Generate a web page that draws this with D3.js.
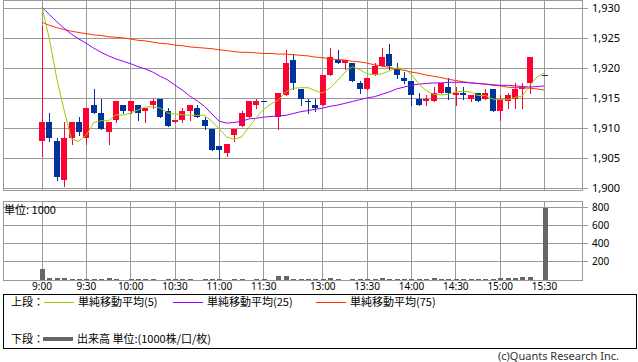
<!DOCTYPE html>
<html>
<head>
<meta charset="utf-8">
<script src="https://cdn.jsdelivr.net/npm/d3@7"></script>
<style>
  body { margin: 0; background: #fff; }
  svg { display: block; font-family: "Noto Sans", "Noto Sans CJK JP", sans-serif; }
</style>
</head>
<body>
<svg id="svg_chart" width="638" height="362"></svg>
<script>
// 5-minute slots, 0 = 9:00 ... 30 = 11:30, 32 = 12:30 ... 68 = 15:30
const slots = d3.range(0, 69)
const tickSlots = [0, 6, 12, 18, 24, 30, 38, 44, 50, 56, 62, 68]
const tickLabels = ["9:00", "9:30", "10:00", "10:30", "11:00", "11:30", "13:00", "13:30", "14:00", "14:30", "15:00", "15:30"]
const priceTicks = [1900, 1905, 1910, 1915, 1920, 1925, 1930]
const volumeTicks = [200, 400, 600, 800]

const open = [1908, 1911, 1908, 1901.5, 1908.5, 1911, 1908.5, 1914, 1912.5, 1909.5,
    1911.5, 1914, 1913, 1914, 1913, 1914, 1915, 1913, 1911, 1911.5,
    1913, 1913.5, 1911.5, 1910, 1907, 1906, 1909, 1910.5, 1912, 1914,
    1914.5, null, 1912, 1915.5, 1921.5, 1916.5, 1914.5, 1914, 1914, 1919,
    1921.5, 1921, 1921, 1917.5, 1916.5, 1919, 1920.5, 1922.5, 1920, 1918.5,
    1918, 1915, 1914.5, 1914.5, 1916, 1917, 1915.5, 1916, 1915, 1916,
    1915, 1916.5, 1913, 1914.5, 1915, 1916.5, 1917.5, null, 1919]
const high = [1927, 1912.5, 1908.5, 1911, 1911, 1912, 1913.5, 1916.5, 1915, 1911,
    1914.5, 1914, 1914.5, 1914, 1913.5, 1915, 1915, 1913.5, 1911.5, 1913.5,
    1914, 1914, 1912, 1910, 1907, 1907.5, 1910, 1913, 1914.5, 1915,
    1914.5, null, 1916, 1923, 1922.5, 1916.5, 1915, 1915, 1919, 1923.5,
    1923, 1921.5, 1921, 1918, 1918.5, 1921, 1923.5, 1924, 1921, 1919.5,
    1918, 1916, 1915.5, 1917, 1917.5, 1918.5, 1917, 1917, 1915.5, 1916,
    1916.5, 1916.5, 1915.5, 1916, 1917.5, 1917.5, 1922, null, 1919]
const low = [1905.5, 1908, 1901.5, 1900.5, 1907.5, 1909, 1907.5, 1912.5, 1910, 1907.5,
    1911, 1912.5, 1912.5, 1911.5, 1911, 1913.5, 1912, 1910.5, 1911, 1911,
    1911.5, 1912, 1910, 1906.5, 1905, 1905.5, 1908, 1910.5, 1912, 1913.5,
    1914.5, null, 1910, 1915.5, 1916.5, 1914, 1912.5, 1913, 1914, 1919,
    1921, 1920, 1918, 1916, 1916.5, 1919, 1920.5, 1920, 1918.5, 1917.5,
    1914, 1914, 1914, 1914.5, 1916, 1915, 1914, 1915, 1914.5, 1914.5,
    1915, 1913, 1911.5, 1913.5, 1913.5, 1913.5, 1916, null, 1919]
const close = [1911, 1908.5, 1902, 1908.5, 1911, 1909.5, 1913.5, 1912.5, 1910, 1911,
    1914.5, 1913, 1914.5, 1912.5, 1913.5, 1914.5, 1912, 1910.5, 1911.5, 1913,
    1914, 1912, 1910.5, 1906.5, 1906.5, 1907.5, 1910, 1912.5, 1914.5, 1914.5,
    1914.5, null, 1916, 1921, 1917.5, 1915, 1914.5, 1913.5, 1919, 1922,
    1921, 1921.5, 1918, 1916.5, 1918.5, 1920.5, 1922, 1920.5, 1919, 1918,
    1915.5, 1914, 1915, 1916, 1917.5, 1916, 1916, 1915.5, 1915.5, 1914.5,
    1916, 1913, 1915, 1915.5, 1916.5, 1917, 1922, null, 1919]
const volume = [120, 22, 22, 22, 12, 12, 12, 12, 12, 22,
    12, 5, 12, 12, 12, 12, 5, 12, 12, 12,
    12, 5, 12, 12, 12, 5, 12, 12, 5, 12,
    12, null, 44, 44, 15, 12, 12, 12, 12, 22,
    12, 5, 12, 12, 12, 12, 22, 12, 12, 12,
    12, 12, 12, 22, 12, 12, 12, 12, 12, 12,
    12, 12, 20, 20, 20, 33, 33, null, 795]

// moving averages (they carry over from the previous day)
const ma5 = [1930.2, 1924.9, 1918.3, 1913.0, 1908.2, 1907.9, 1908.9, 1911.0, 1911.3, 1911.3,
    1912.3, 1912.2, 1912.6, 1913.1, 1913.6, 1913.6, 1913.4, 1912.6, 1912.4, 1912.3,
    1912.2, 1912.2, 1912.2, 1911.2, 1909.9, 1908.6, 1908.2, 1908.6, 1910.2, 1911.8,
    1913.2, 1914.1, 1914.8, 1916.1, 1916.7, 1916.8, 1916.8, 1916.3, 1915.9, 1916.8,
    1918.0, 1919.4, 1920.3, 1919.8, 1919.1, 1919.0, 1919.1, 1919.6, 1920.1, 1920.0,
    1919.0, 1917.4, 1916.3, 1915.7, 1915.6, 1915.7, 1916.1, 1916.2, 1916.1, 1915.5,
    1915.5, 1914.9, 1914.8, 1914.8, 1915.2, 1915.4, 1917.2, 1918.6, 1919.3]
const ma25 = [1930.2, 1929.0, 1927.8, 1926.7, 1925.7, 1924.9, 1924.2, 1923.4, 1922.7, 1922.1,
    1921.6, 1921.2, 1920.8, 1920.3, 1919.9, 1919.4, 1918.7, 1918.1, 1917.2, 1916.4,
    1915.4, 1914.6, 1913.7, 1912.4, 1911.2, 1910.9, 1911.0, 1911.2, 1911.6, 1911.7,
    1911.9, 1912.0, 1912.1, 1912.2, 1912.5, 1912.8, 1913.0, 1913.2, 1913.4, 1913.7,
    1913.9, 1914.2, 1914.5, 1914.8, 1915.1, 1915.3, 1915.7, 1916.1, 1916.6, 1916.9,
    1917.2, 1917.4, 1917.5, 1917.6, 1917.6, 1917.7, 1917.7, 1917.7, 1917.6, 1917.5,
    1917.4, 1917.3, 1917.2, 1917.2, 1917.1, 1917.0, 1916.9, 1917.0, 1917.1]
const ma75 = [1927.7, 1927.2, 1926.8, 1926.5, 1926.2, 1926.0, 1925.8, 1925.6, 1925.5, 1925.3,
    1925.2, 1925.1, 1924.9, 1924.7, 1924.6, 1924.4, 1924.2, 1924.1, 1923.9, 1923.8,
    1923.6, 1923.5, 1923.4, 1923.3, 1923.1, 1923.0, 1922.8, 1922.7, 1922.7, 1922.6,
    1922.5, 1922.5, 1922.4, 1922.4, 1922.3, 1922.2, 1922.1, 1921.9, 1921.8, 1921.6,
    1921.5, 1921.4, 1921.2, 1921.1, 1920.9, 1920.6, 1920.4, 1920.2, 1919.9, 1919.7,
    1919.4, 1919.2, 1918.9, 1918.7, 1918.5, 1918.2, 1918.0, 1917.8, 1917.6, 1917.5,
    1917.4, 1917.2, 1917.1, 1916.9, 1916.8, 1916.8, 1916.7, 1916.6, 1916.4]

const svg = d3.select("#svg_chart")
const gridColor = "#999"
const upColor = "#ff0033"
const downColor = "#003399"

const x = d3.scaleLinear().domain([0, 68]).range([42, 544.5])
const y = d3.scaleLinear().domain([1900, 1930]).range([188.5, 8.5])
const yVol = d3.scaleLinear().domain([0, 800]).range([280, 207.5])

const crisp = v => Math.floor(v) + 0.5
const left = 3.5, right = 582.5

// ---- grid lines ----
const grid = svg.append("g").attr("stroke", gridColor).attr("shape-rendering", "crispEdges")

grid.selectAll(".hgrid")
    .data(priceTicks)
    .enter().append("line")
    .attr("x1", left).attr("x2", right + 5)
    .attr("y1", d => crisp(y(d))).attr("y2", d => crisp(y(d)))

grid.selectAll(".vgrid")
    .data(tickSlots)
    .enter().append("line")
    .attr("x1", d => crisp(x(d))).attr("x2", d => crisp(x(d)))
    .attr("y1", 0.5).attr("y2", 190.5)

grid.selectAll(".vhgrid")
    .data(volumeTicks)
    .enter().append("line")
    .attr("x1", left).attr("x2", right + 5)
    .attr("y1", d => crisp(yVol(d))).attr("y2", d => crisp(yVol(d)))

grid.selectAll(".vvgrid")
    .data(tickSlots)
    .enter().append("line")
    .attr("x1", d => crisp(x(d))).attr("x2", d => crisp(x(d)))
    .attr("y1", 201.5).attr("y2", 280.5)

// frames
grid.append("rect")
    .attr("x", left).attr("y", 0.5)
    .attr("width", right - left).attr("height", 190)
    .attr("fill", "none")
grid.append("rect")
    .attr("x", left).attr("y", 201.5)
    .attr("width", right - left).attr("height", 79)
    .attr("fill", "none")

// ---- axis labels ----
svg.append("g")
    .selectAll("text")
    .data(priceTicks)
    .enter().append("text")
    .attr("x", 592)
    .attr("y", d => y(d))
    .attr("dy", "0.35em")
    .attr("font-size", 11)
    .attr("fill", "#000")
    .text(d => d3.format(",")(d))

svg.append("g")
    .selectAll("text")
    .data(volumeTicks)
    .enter().append("text")
    .attr("x", 592)
    .attr("y", d => yVol(d))
    .attr("dy", "0.35em")
    .attr("font-size", 10)
    .attr("fill", "#000")
    .text(d => d)

svg.append("g")
    .selectAll("text")
    .data(tickSlots)
    .enter().append("text")
    .attr("x", d => x(d))
    .attr("y", 290)
    .attr("text-anchor", "middle")
    .attr("font-size", 10)
    .attr("fill", "#000")
    .text((d, i) => tickLabels[i])

svg.append("text")
    .attr("x", 4)
    .attr("y", 214)
    .attr("font-size", 11)
    .attr("font-family", "Noto Sans CJK JP")
    .text("単位: 1000")

// ---- volume bars ----
svg.append("g")
    .attr("shape-rendering", "crispEdges")
    .selectAll("rect")
    .data(slots.filter(i => volume[i] != null))
    .enter().append("rect")
    .attr("x", i => Math.round(x(i)) - 2)
    .attr("width", 5)
    .attr("y", i => Math.round(yVol(volume[i])))
    .attr("height", i => 280 - Math.round(yVol(volume[i])))
    .attr("fill", "#666")

// ---- candles ----
const bars = slots.filter(i => open[i] != null)
const candles = svg.append("g").attr("shape-rendering", "crispEdges")

candles.selectAll("line")
    .data(bars)
    .enter().append("line")
    .attr("x1", i => Math.round(x(i)) + 0.5)
    .attr("x2", i => Math.round(x(i)) + 0.5)
    .attr("y1", i => Math.round(y(high[i])))
    .attr("y2", i => Math.round(y(low[i])) + 1)
    .attr("stroke", i => close[i] > open[i] ? upColor : downColor)

candles.selectAll("rect")
    .data(bars)
    .enter().append("rect")
    .attr("x", i => Math.round(x(i)) - 3)
    .attr("width", 6)
    .attr("y", i => Math.round(y(Math.max(open[i], close[i]))))
    .attr("height", i => Math.max(1, Math.round(y(Math.min(open[i], close[i]))) - Math.round(y(Math.max(open[i], close[i])))))
    .attr("fill", i => close[i] > open[i] ? upColor : downColor)

// ---- moving averages ----
const maLine = d3.line()
    .x((d, i) => x(i))
    .y(d => y(d))

const maSeries = [
    { values: ma75, color: "#ff3300" },
    { values: ma25, color: "#9900ff" },
    { values: ma5, color: "#99cc00" }
]

svg.append("g")
    .selectAll("path")
    .data(maSeries)
    .enter().append("path")
    .attr("d", d => maLine(d.values))
    .attr("fill", "none")
    .attr("stroke", d => d.color)
    .attr("stroke-width", 1)

// ---- legend ----
const legend = svg.append("g")
    .attr("font-family", "Noto Sans CJK JP")
    .attr("font-size", 11)

legend.append("rect")
    .attr("x", 3.5).attr("y", 294.5)
    .attr("width", 633).attr("height", 54)
    .attr("fill", "none")
    .attr("stroke", "#000")
    .attr("shape-rendering", "crispEdges")

const legendItems = [
    { label: "単純移動平均(5)", color: "#99cc00", x: 44 },
    { label: "単純移動平均(25)", color: "#9900ff", x: 173 },
    { label: "単純移動平均(75)", color: "#ff3300", x: 316 }
]

legend.append("text").attr("x", 11).attr("y", 306).text("上段：")
legend.append("text").attr("x", 11).attr("y", 343).text("下段：")

legend.selectAll(".item")
    .data(legendItems)
    .enter().append("line")
    .attr("x1", d => d.x).attr("x2", d => d.x + 30)
    .attr("y1", 302.5).attr("y2", 302.5)
    .attr("stroke", d => d.color)

legend.selectAll(".itemLabel")
    .data(legendItems)
    .enter().append("text")
    .attr("x", d => d.x + 34)
    .attr("y", 306)
    .text(d => d.label)

legend.append("line")
    .attr("x1", 43).attr("x2", 73)
    .attr("y1", 339).attr("y2", 339)
    .attr("stroke", "#666")
    .attr("stroke-width", 4)

legend.append("text").attr("x", 77).attr("y", 343).text("出来高 単位:(1000株/口/枚)")

svg.append("text")
    .attr("x", 619)
    .attr("y", 360)
    .attr("text-anchor", "end")
    .attr("font-size", 11)
    .attr("fill", "#333")
    .text("(c)Quants Research Inc.")
</script>
</body>
</html>
